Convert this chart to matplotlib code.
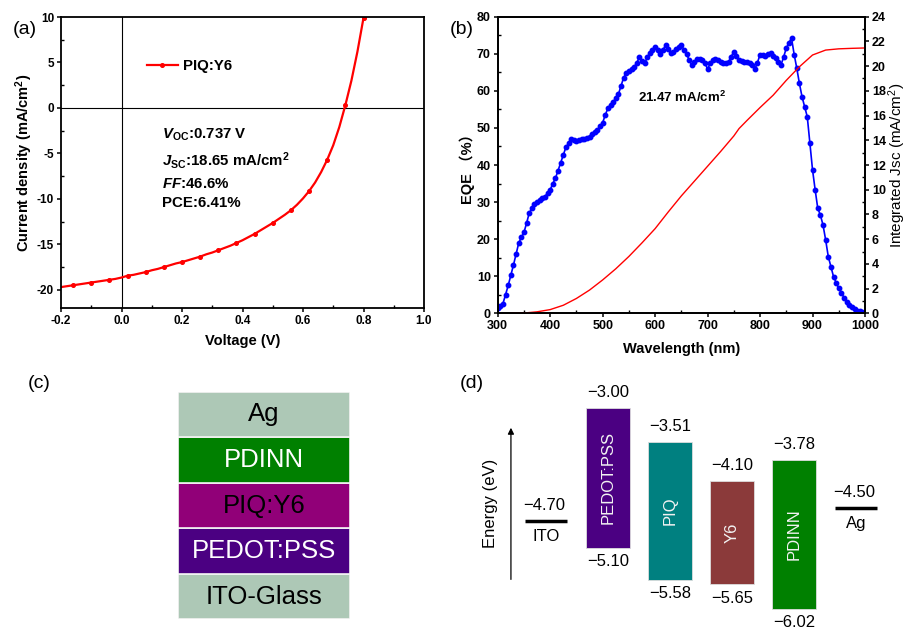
import numpy as np
import matplotlib
matplotlib.use("Agg")
import matplotlib.pyplot as plt
from matplotlib.ticker import MultipleLocator

plt.rcParams.update({
    "font.family": ["Liberation Sans", "Noto Sans CJK SC", "DejaVu Sans"],
    "axes.unicode_minus": False,
    "mathtext.fontset": "custom",
    "mathtext.rm": "Liberation Sans",
    "mathtext.it": "Liberation Sans:italic",
    "mathtext.bf": "Liberation Sans:bold",
    "mathtext.bfit": "Liberation Sans:italic:bold",
})

# ---- (a) J-V curve ----
voltage = np.linspace(-0.2, 0.8, 51)
current = [-19.7, -19.6, -19.5, -19.4, -19.3, -19.2, -19.1, -19.0, -18.9, -18.8,
           -18.65, -18.45, -18.35, -18.2, -18.05, -17.85, -17.7, -17.5, -17.3, -17.1,
           -16.95, -16.75, -16.55, -16.35, -16.1, -15.9, -15.65, -15.4, -15.15, -14.85,
           -14.55, -14.2, -13.85, -13.45, -13.05, -12.65, -12.2, -11.75, -11.25, -10.65,
           -9.95, -9.15, -8.2, -7.05, -5.7, -4.1, -2.1, 0.3, 3.0, 6.2, 9.9]

# ---- (b) EQE + integrated Jsc ----
wavelength = np.arange(300, 1005, 5)
eqe = [1.3, 2.0, 2.6, 5.0, 7.5, 10.2, 13.0, 16.0, 18.9, 20.5,
       21.8, 24.3, 27.0, 28.3, 29.5, 30.0, 30.6, 31.0, 31.5, 32.4,
       33.3, 35.0, 36.4, 38.5, 40.6, 42.7, 44.8, 45.8, 46.9, 46.7,
       46.4, 46.7, 47.0, 47.0, 47.2, 47.6, 48.3, 48.8, 49.4, 50.5,
       51.4, 53.5, 55.3, 56.2, 57.0, 58.0, 59.1, 61.3, 63.6, 64.7,
       65.4, 65.8, 66.3, 67.6, 69.0, 68.1, 67.4, 69.0, 70.3, 71.0,
       71.7, 71.0, 69.9, 71.0, 72.4, 71.2, 70.3, 70.6, 71.2, 71.9,
       72.5, 71.0, 69.9, 68.3, 66.9, 67.8, 68.5, 68.5, 68.3, 67.4,
       65.9, 67.4, 68.3, 68.5, 68.3, 67.8, 67.6, 67.4, 67.8, 69.2,
       70.6, 69.4, 68.3, 68.1, 67.8, 67.8, 67.4, 66.9, 65.8, 67.6,
       69.8, 69.7, 69.4, 69.9, 70.1, 69.4, 68.8, 67.9, 67.0, 69.2,
       71.5, 73.0, 74.2, 69.8, 66.1, 62.0, 58.4, 55.7, 53.0, 45.8,
       38.7, 33.3, 28.3, 26.5, 23.8, 19.8, 15.3, 12.6, 9.9, 8.3,
       6.7, 5.6, 4.2, 3.1, 2.2, 1.6, 1.1, 0.7, 0.5, 0.4,
       0.2]
jsc_wl = [325, 350, 375, 400, 425, 450, 475, 500, 525, 550, 575, 600, 625, 650,
          675, 700, 725, 750, 760, 775, 800, 825, 850, 875, 900, 925, 950, 975, 1000]
jsc_int = [0.0, 0.02, 0.12, 0.3, 0.65, 1.2, 1.88, 2.7, 3.6, 4.6, 5.7, 6.85, 8.2, 9.5,
           10.7, 11.9, 13.1, 14.35, 14.95, 15.6, 16.65, 17.65, 18.85, 19.95, 20.9,
           21.3, 21.4, 21.44, 21.47]

# ---- (c) device stack, bottom to top ----
stack_names = ["ITO-Glass", "PEDOT:PSS", "PIQ:Y6", "PDINN", "Ag"]
stack_colors = ["#adc8b6", "#4b0082", "#910078", "#008000", "#adc8b6"]
stack_text = ["black", "white", "black", "white", "black"]

# ---- (d) energy levels ----
layer_names = ["PEDOT:PSS", "PIQ", "Y6", "PDINN"]
layer_top = [-3.00, -3.51, -4.10, -3.78]
layer_bottom = [-5.10, -5.58, -5.65, -6.02]
layer_colors = ["#4b0082", "#008080", "#8b3a3a", "#008000"]
electrode_names = ["ITO", "Ag"]
electrode_level = [-4.70, -4.50]

FW, FH = 907, 629
fig = plt.figure(figsize=(FW / 100, FH / 100), dpi=100)


def px_axes(x0, y0, x1, y1):
    return fig.add_axes([x0 / FW, 1 - y1 / FH, (x1 - x0) / FW, (y1 - y0) / FH])


def style_ticks(ax, sides, size=9):
    for s in ax.spines.values():
        s.set_linewidth(1.3)
    ax.tick_params(which="major", direction="out", length=3, width=1.1, pad=2,
                   labelsize=size, **sides)
    ax.tick_params(which="minor", direction="in", length=2.5, width=1.0, **sides)
    for lab in ax.get_xticklabels() + ax.get_yticklabels():
        lab.set_fontweight("bold")


# ---------- panel (a) ----------
ax = px_axes(61, 17, 424, 308)
ax.axhline(0, color="black", lw=0.8)
ax.axvline(0, color="black", lw=0.8)
ax.plot(voltage, current, color="red", lw=1.6, marker="o", ms=2.6,
        markevery=slice(2, None, 3), label="PIQ:Y6")
ax.set_xlim(-0.2, 1.0)
ax.set_ylim(-22, 10)
ax.xaxis.set_major_locator(MultipleLocator(0.2))
ax.xaxis.set_minor_locator(MultipleLocator(0.1))
ax.yaxis.set_major_locator(MultipleLocator(5))
ax.yaxis.set_minor_locator(MultipleLocator(2.5))
ax.set_xticks(ax.get_xticks())
ax.set_xticklabels([f"{t:.1f}" for t in ax.get_xticks()])
ax.set_xlim(-0.2, 1.0)
style_ticks(ax, dict(top=False, right=False), size=8.5)
ax.text(0.5, -0.113, "Voltage (V)", transform=ax.transAxes, ha="center", va="center",
        fontsize=10.5, fontweight="bold")
ax.text(-0.1, 0.5, "Current density (mA/cm$^{\\mathbf{2}}$)", transform=ax.transAxes,
        ha="center", va="center", rotation=90, fontsize=10.5, fontweight="bold")
leg = ax.legend(loc="center left", bbox_to_anchor=(0.236, 0.83), frameon=False,
                borderpad=0, borderaxespad=0, handlelength=2.1, handletextpad=0.3,
                prop={"size": 10.8, "weight": "bold"})
notes = [r"$\mathbfit{V}_{\mathbf{OC}}$:0.737 V",
         r"$\mathbfit{J}_{\mathbf{SC}}$:18.65 mA/cm$^{\mathbf{2}}$",
         r"$\mathbfit{FF}$:46.6%",
         "PCE:6.41%"]
for note, yv in zip(notes, [-3.0, -5.8, -8.4, -10.4]):
    ax.text(0.135, yv, note, ha="left", va="center", fontsize=10.8, fontweight="bold")
fig.text(13 / FW, 1 - 29 / FH, "(a)", fontsize=14, ha="left", va="center")

# ---------- panel (b) ----------
bx = px_axes(497.7, 16.7, 865, 313.3)
bx.plot(wavelength, eqe, color="blue", lw=1.2, marker="o", ms=3.2)
bx.set_xlim(300, 1000)
bx.set_ylim(0, 80)
bx.xaxis.set_major_locator(MultipleLocator(100))
bx.xaxis.set_minor_locator(MultipleLocator(50))
bx.yaxis.set_major_locator(MultipleLocator(10))
bx.yaxis.set_minor_locator(MultipleLocator(5))
style_ticks(bx, dict(top=False, right=False))
bx.text(568, 58.2, "21.47 mA/cm$^{\\mathbf{2}}$", ha="left", va="center",
        fontsize=9.5, fontweight="bold")
bx.text(0.5, -0.12, "Wavelength (nm)", transform=bx.transAxes, ha="center",
        va="center", fontsize=10.5, fontweight="bold")
bx.text(-0.084, 0.5, "EQE （%）", transform=bx.transAxes, ha="center", va="center",
        rotation=90, fontsize=10.5, fontweight="bold")

b2 = bx.twinx()
b2.plot(jsc_wl, jsc_int, color="red", lw=1.0)
b2.set_ylim(0, 24)
b2.yaxis.set_major_locator(MultipleLocator(2))
b2.yaxis.set_minor_locator(MultipleLocator(1))
style_ticks(b2, dict(top=False, left=False, right=True))
b2.text(1.088, 0.5, "Integrated Jsc (mA/cm$^{2}$)", transform=b2.transAxes,
        ha="center", va="center", rotation=90, fontsize=11)
fig.text(450 / FW, 1 - 30 / FH, "(b)", fontsize=14, ha="left", va="center")

# ---------- panel (c) ----------
cx = px_axes(178, 391.7, 350, 619.3)
pos = np.arange(len(stack_names))
cx.bar(np.zeros(len(pos)), 1, bottom=pos, width=1, color=stack_colors,
       edgecolor="#f4f4f4", linewidth=1.2)
for i, (name, tc) in enumerate(zip(stack_names, stack_text)):
    cx.text(0, i + 0.5, name, ha="center", va="center", color=tc, fontsize=18.5)
cx.set_xlim(-0.5, 0.5)
cx.set_ylim(0, len(stack_names))
cx.axis("off")
fig.text(28 / FW, 1 - 383 / FH, "(c)", fontsize=14, ha="left", va="center")

# ---------- panel (d) ----------
dx = px_axes(469.7, 360, 905.6, 629)
dx.set_xlim(-1.23, 5.8)
dx.set_ylim(-6.32, -2.28)
dx.axis("off")
lx = np.arange(1, len(layer_names) + 1)
heights = np.array(layer_top) - np.array(layer_bottom)
dx.bar(lx, heights, bottom=layer_bottom, width=0.72, color=layer_colors,
       edgecolor="#dddddd", linewidth=0.6)
for x, name, top, bot in zip(lx, layer_names, layer_top, layer_bottom):
    dx.text(x, (top + bot) / 2, name, rotation=90, ha="center", va="center",
            color="#f2f2f2", fontsize=12)
    dx.annotate(f"\u2212{abs(top):.2f}", (x - 0.34, top), xytext=(0, 11),
                textcoords="offset points", ha="left", va="center", fontsize=12)
    dx.annotate(f"\u2212{abs(bot):.2f}", (x - 0.34, bot), xytext=(0, -10),
                textcoords="offset points", ha="left", va="center", fontsize=12)
ex = [0, len(layer_names) + 1]
for x, name, lev in zip(ex, electrode_names, electrode_level):
    dx.hlines(lev, x - 0.34, x + 0.34, color="black", lw=2.5)
    dx.annotate(f"\u2212{abs(lev):.2f}", (x - 0.36, lev), xytext=(0, 11),
                textcoords="offset points", ha="left", va="center", fontsize=12)
    dx.annotate(name, (x, lev), xytext=(0, -11), textcoords="offset points",
                ha="center", va="center", fontsize=12)
dx.annotate("", xy=(-0.565, -3.256), xytext=(-0.565, -5.617),
            arrowprops=dict(arrowstyle="-|>", color="black", lw=0.9,
                            mutation_scale=9))
dx.text(-0.9, -4.43, "Energy (eV)", rotation=90, ha="center", va="center", fontsize=12)
fig.text(460 / FW, 1 - 383.5 / FH, "(d)", fontsize=14, ha="left", va="center")

fig.savefig("out.png", dpi=100, facecolor="white")
